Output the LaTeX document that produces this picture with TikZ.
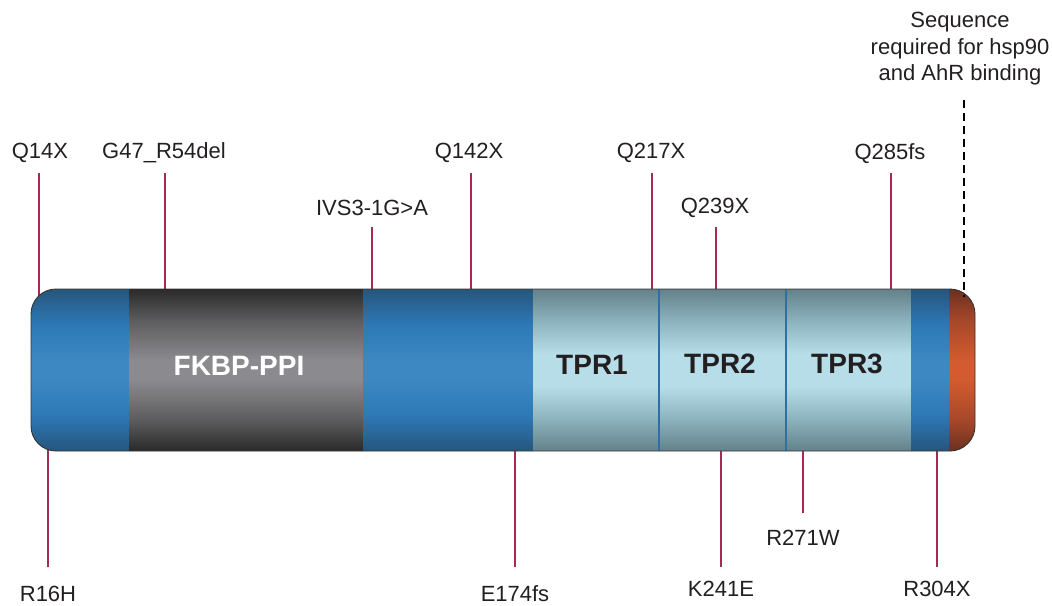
\documentclass[tikz,border=0pt]{standalone}
\usepackage{fontspec}
\setmainfont{Liberation Sans}
\definecolor{bA}{HTML}{26567B}
\definecolor{bB}{HTML}{2A6597}
\definecolor{bC}{HTML}{2C79B6}
\definecolor{bD}{HTML}{3D88C3}
\definecolor{gA}{HTML}{2A2A2A}
\definecolor{gB}{HTML}{5E5E60}
\definecolor{gC}{HTML}{8B8B8F}
\definecolor{tA}{HTML}{63818A}
\definecolor{tB}{HTML}{8DB3BE}
\definecolor{tC}{HTML}{B6DDE8}
\definecolor{oA}{HTML}{6C3020}
\definecolor{oB}{HTML}{A8482A}
\definecolor{oC}{HTML}{D35B2F}
\definecolor{mut}{HTML}{A62A55}
\definecolor{txt}{HTML}{231F20}
\definecolor{sepblue}{HTML}{2F6FA5}
\pgfdeclareverticalshading{blueseg}{100bp}{color(0bp)=(bA); color(25bp)=(bA); color(30bp)=(bB); color(36bp)=(bC); color(47bp)=(bD); color(53bp)=(bD); color(64bp)=(bC); color(70bp)=(bB); color(75bp)=(bA); color(100bp)=(bA)}
\pgfdeclareverticalshading{grayseg}{100bp}{color(0bp)=(gA); color(25bp)=(gA); color(35bp)=(gB); color(47bp)=(gC); color(53bp)=(gC); color(65bp)=(gB); color(75bp)=(gA); color(100bp)=(gA)}
\pgfdeclareverticalshading{tprseg}{100bp}{color(0bp)=(tA); color(25bp)=(tA); color(35bp)=(tB); color(45bp)=(tC); color(55bp)=(tC); color(65bp)=(tB); color(75bp)=(tA); color(100bp)=(tA)}
\pgfdeclareverticalshading{orangeseg}{100bp}{color(0bp)=(oA); color(25bp)=(oA); color(35bp)=(oB); color(47bp)=(oC); color(53bp)=(oC); color(65bp)=(oB); color(75bp)=(oA); color(100bp)=(oA)}
\begin{document}
\begin{tikzpicture}[x=1pt,y=-1pt,
  lab/.style={font=\fontsize{22}{26.5}\selectfont, text=txt, inner sep=0pt},
  dom/.style={font=\bfseries\fontsize{28}{32}\selectfont, inner sep=0pt},
  mutline/.style={draw=mut, line width=2.4pt},
  seqline/.style={draw=black, line width=2.2pt, dash pattern=on 8pt off 5pt}]
\useasboundingbox (0,0) rectangle (1052,605);

% labels above
\node[lab] (q14x) at (40,153) {Q14X};
\node[lab] (g47) at (164,153) {G47\_R54del};
\node[lab] (ivs) at (372,208) {IVS3-1G>A};
\node[lab] (q142x) at (469,153) {Q142X};
\node[lab] (q217x) at (651,153) {Q217X};
\node[lab] (q239x) at (715,208) {Q239X};
\node[lab] (q285fs) at (890,154) {Q285fs};
% labels below
\node[lab] (r16h) at (48,594) {R16H};
\node[lab] (e174fs) at (515,594) {E174fs};
\node[lab] (k241e) at (721,589) {K241E};
\node[lab] (r271w) at (803,538) {R271W};
\node[lab] (r304x) at (937,589) {R304X};
% sequence note
\node[lab, align=center] (seq) at (960,49) {Sequence\\required for hsp90\\and AhR binding};

% line end coordinates
\coordinate (q14x-t) at (39,173);   \coordinate (q14x-b) at (39,300);
\coordinate (g47-t) at (165,173);   \coordinate (g47-b) at (165,300);
\coordinate (ivs-t) at (372,227);   \coordinate (ivs-b) at (372,300);
\coordinate (q142x-t) at (471,173); \coordinate (q142x-b) at (471,300);
\coordinate (q217x-t) at (652,173); \coordinate (q217x-b) at (652,300);
\coordinate (q239x-t) at (716,227); \coordinate (q239x-b) at (716,300);
\coordinate (q285fs-t) at (891,173);\coordinate (q285fs-b) at (891,300);
\coordinate (r16h-t) at (48,440);   \coordinate (r16h-b) at (48,567);
\coordinate (e174fs-t) at (515,440);\coordinate (e174fs-b) at (515,567);
\coordinate (k241e-t) at (721,440); \coordinate (k241e-b) at (721,567);
\coordinate (r271w-t) at (803,440); \coordinate (r271w-b) at (803,513);
\coordinate (r304x-t) at (937,440); \coordinate (r304x-b) at (937,567);
\coordinate (seq-t) at (964,100);   \coordinate (seq-b) at (964,297);

\foreach \m in {q14x,g47,ivs,q142x,q217x,q239x,q285fs,r16h,e174fs,k241e,r271w,r304x}
  \draw[mutline] (\m-t) -- (\m-b);

% protein bar
\begin{scope}
  \clip[rounded corners=25pt] (31,289) rectangle (975,451);
  \shade[shading=blueseg] (30,289) rectangle (129.5,451);
  \shade[shading=grayseg] (129,289) rectangle (363.5,451);
  \shade[shading=blueseg] (363,289) rectangle (533.5,451);
  \shade[shading=tprseg] (533,289) rectangle (911.5,451);
  \shade[shading=blueseg] (911,289) rectangle (949.5,451);
  \shade[shading=orangeseg] (949,289) rectangle (976,451);
\end{scope}
\coordinate (sep1-t) at (658.5,289); \coordinate (sep1-b) at (658.5,451);
\coordinate (sep2-t) at (785.5,289); \coordinate (sep2-b) at (785.5,451);
\draw[draw=sepblue, line width=2pt] (sep1-t) -- (sep1-b);
\draw[draw=sepblue, line width=2pt] (sep2-t) -- (sep2-b);
\draw[draw=black!80, line width=0.9pt, rounded corners=25pt] (31,289) rectangle (975,451);

\draw[seqline] (seq-t) -- (seq-b);

% domain labels
\node[dom, text=white] (fkbp) at (239,366) {FKBP-PPI};
\node[dom, text=txt] (tpr1) at (592,365) {TPR1};
\node[dom, text=txt] (tpr2) at (720,364) {TPR2};
\node[dom, text=txt] (tpr3) at (847,364) {TPR3};
\end{tikzpicture}
\end{document}
